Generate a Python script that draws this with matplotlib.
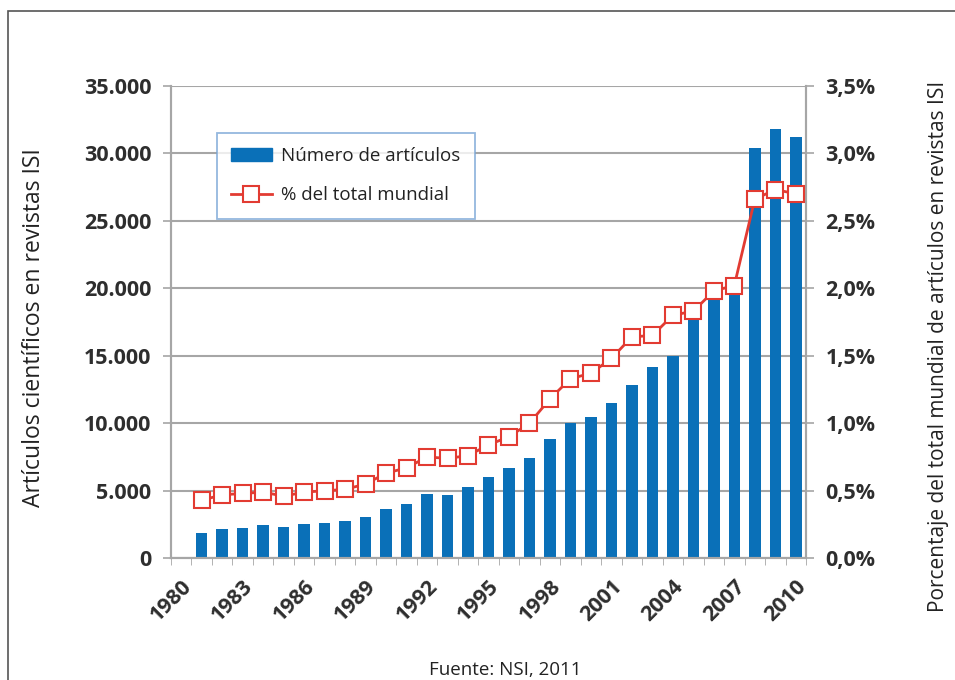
import matplotlib.pyplot as plt
from matplotlib.patches import Rectangle
from matplotlib.lines import Line2D
from matplotlib.ticker import FuncFormatter, MultipleLocator
import numpy as np

plt.rcParams['font.family'] = ['Open Sans', 'DejaVu Sans']

# Data: annual count of articles and share of world total
years = list(range(1980, 2011))
articulos = [np.nan, 1900, 2200, 2270, 2440, 2350, 2570, 2600, 2790, 3060,
             3680, 4000, 4740, 4670, 5260, 6050, 6670, 7400, 8810, 10020,
             10500, 11480, 12810, 14200, 15010, 17800, 19500, 20000, 30350, 31780,
             31210]
porcentaje = [np.nan, 0.43, 0.47, 0.48, 0.49, 0.46, 0.49, 0.50, 0.51, 0.55,
              0.63, 0.67, 0.75, 0.74, 0.76, 0.84, 0.90, 1.00, 1.18, 1.33,
              1.37, 1.48, 1.64, 1.65, 1.80, 1.83, 1.98, 2.02, 2.66, 2.73,
              2.70]
year_labels = [str(y) for y in years]

bar_color = '#0a70b8'
line_color = '#e23b32'
grid_color = '#a6a6a6'
text_color = '#2e2e2e'

fig = plt.figure(figsize=(9.55, 6.8), dpi=100)
ax = fig.add_axes([0.179, 0.179, 0.665, 0.695])
ax2 = ax.twinx()

x = np.arange(len(years))
ax.bar(x, articulos, width=0.56, color=bar_color, zorder=2)
ax2.plot(x, porcentaje, color=line_color, lw=2, marker='s', ms=11,
         mfc='white', mec=line_color, mew=1.5, zorder=3)

ax.set_xlim(-0.5, len(years) - 0.5)
ax.set_ylim(0, 35000)
ax2.set_ylim(0, 3.5)
ax.yaxis.set_major_locator(MultipleLocator(5000))
ax2.yaxis.set_major_locator(MultipleLocator(0.5))
ax.yaxis.set_major_formatter(FuncFormatter(lambda v, p: f'{int(v):,}'.replace(',', '.')))
ax2.yaxis.set_major_formatter(FuncFormatter(lambda v, p: f'{v:.1f}%'.replace('.', ',')))

ax.grid(axis='y', color=grid_color, lw=1.5, zorder=0)
ax.set_axisbelow(True)

# category ticks between bars, labels every three years
ax.set_xticks(np.arange(-0.5, len(years), 1), minor=True)
ax.set_xticks(x[::3])
ax.set_xticklabels(year_labels[::3], rotation=45, ha='right',
                   rotation_mode='anchor')
ax.tick_params(axis='x', which='major', length=0, pad=13)
ax.tick_params(axis='x', which='minor', length=5, color=grid_color)
for a in (ax, ax2):
    a.tick_params(axis='y', length=6, color=grid_color, width=1.2, pad=8)
    a.tick_params(labelsize=15.5, labelcolor=text_color)
    for lbl in a.get_xticklabels() + a.get_yticklabels():
        lbl.set_fontweight('bold')
    for s in a.spines.values():
        s.set_color(grid_color)
        s.set_linewidth(1.5)
    a.spines['top'].set_visible(False)

ax.set_ylabel('Artículos científicos en revistas ISI', fontsize=16.5,
              color='#222222')
ax.yaxis.set_label_coords(-0.197, 0.488)
ax2.set_ylabel('Porcentaje del total mundial de artículos en revistas ISI',
               fontsize=15, color='#222222')
ax2.yaxis.set_label_coords(1.192, 0.449)

handles = [Rectangle((0, 0), 1, 1, color=bar_color),
           Line2D([], [], color=line_color, lw=2, marker='s', ms=11,
                  mfc='white', mec=line_color, mew=1.5)]
leg = ax.legend(handles, ['Número de artículos', '% del total mundial'],
                loc='upper left', bbox_to_anchor=(0.057, 0.92), fontsize=13.5,
                frameon=True, fancybox=False, borderpad=0.75, labelspacing=1.15,
                handlelength=2.2, handletextpad=0.5)
leg.get_frame().set_edgecolor('#7aa6d6')
leg.get_frame().set_linewidth(1.3)
for t in leg.get_texts():
    t.set_color('#222222')

fig.text(0.529, 0.015, 'Fuente: NSI, 2011', ha='center', va='center',
         fontsize=13.5, color='#222222')

# outer frame
fig.patches.append(Rectangle((8 / 955, -0.1), 1.2, 1 - 11 / 680 + 0.1,
                             transform=fig.transFigure, fill=False,
                             edgecolor='#555555', lw=1.2))

fig.savefig('out.png', dpi=100)
